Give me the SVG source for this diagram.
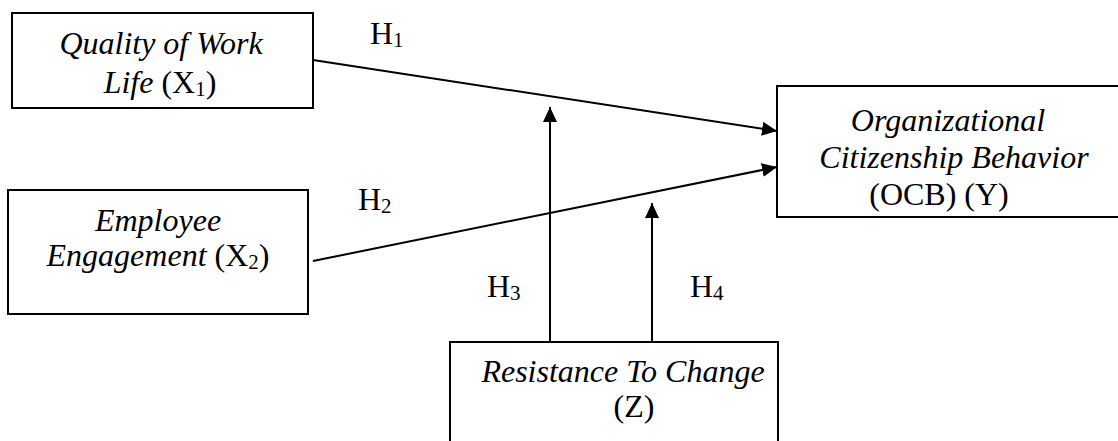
<svg xmlns="http://www.w3.org/2000/svg" width="1118" height="441" viewBox="0 0 1118 441">
<style>
.box{fill:#fff;stroke:#000;stroke-width:2}
.t{font-family:"Liberation Serif","Times New Roman",serif;font-size:32px;fill:#000}
.m{text-anchor:middle}
.i{font-style:italic}
.sub{font-size:21px}
.c{stroke:#000;stroke-width:2;fill:none}
</style>
<defs>
<marker id="ah" markerUnits="userSpaceOnUse" markerWidth="16" markerHeight="14" refX="15" refY="7" orient="auto">
<path d="M0,0 L15,7 L0,14 Z" fill="#000"/>
</marker>
</defs>
<g id="connectors">
<line class="c" x1="313" y1="60" x2="777" y2="131" marker-end="url(#ah)"/>
<line class="c" x1="313" y1="261" x2="777" y2="167" marker-end="url(#ah)"/>
<line class="c" x1="550" y1="342" x2="550" y2="107" marker-end="url(#ah)"/>
<line class="c" x1="652" y1="342" x2="652" y2="203" marker-end="url(#ah)"/>
</g>
<g id="node-x1">
<rect class="box" x="12" y="13" width="301" height="95"/>
<text class="t m i" x="161" y="54">Quality of Work</text>
<text class="t m" x="160" y="93"><tspan class="i">Life</tspan> (X<tspan class="sub" dy="3">1</tspan><tspan dy="-3">)</tspan></text>
</g>
<g id="node-x2">
<rect class="box" x="8" y="190" width="300" height="124"/>
<text class="t m i" x="158" y="231">Employee</text>
<text class="t m" x="158" y="266"><tspan class="i">Engagement</tspan> (X<tspan class="sub" dy="3">2</tspan><tspan dy="-3">)</tspan></text>
</g>
<g id="node-y">
<rect class="box" x="777" y="86" width="350" height="131"/>
<text class="t m i" x="948" y="131">Organizational</text>
<text class="t m i" x="954" y="168">Citizenship Behavior</text>
<text class="t m" x="939" y="205">(OCB) (Y)</text>
</g>
<g id="node-z">
<rect class="box" x="450" y="342" width="328" height="110"/>
<text class="t m i" x="623" y="382">Resistance To Change</text>
<text class="t m" x="634" y="417">(Z)</text>
</g>
<g id="labels">
<text class="t" x="370" y="44">H<tspan class="sub" dy="3">1</tspan></text>
<text class="t" x="358" y="210">H<tspan class="sub" dy="3">2</tspan></text>
<text class="t" x="487" y="297">H<tspan class="sub" dy="3">3</tspan></text>
<text class="t" x="690" y="297">H<tspan class="sub" dy="3">4</tspan></text>
</g>
</svg>
